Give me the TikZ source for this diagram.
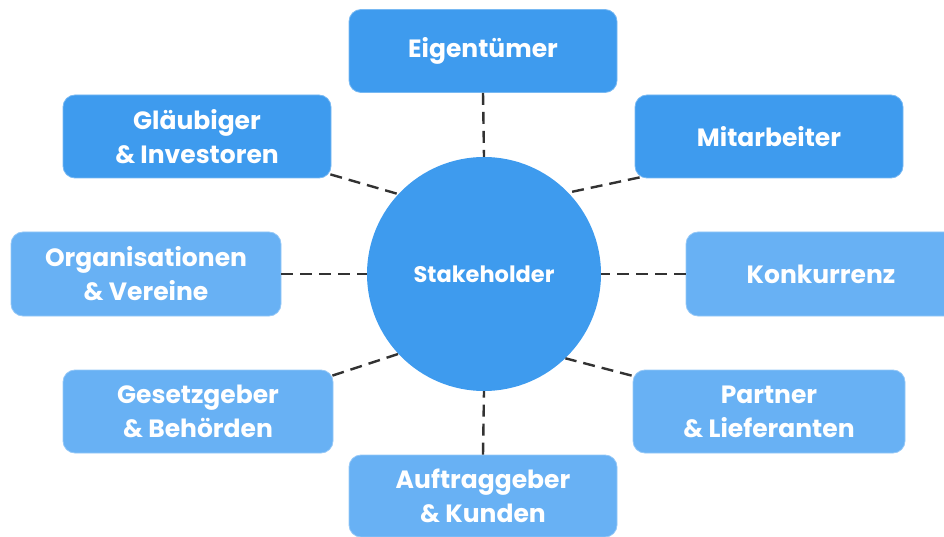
\documentclass[tikz,border=0pt]{standalone}
\usepackage{fontspec}
\setmainfont{Poppins}
\usetikzlibrary{calc}
\definecolor{darkblue}{RGB}{62,155,238}
\definecolor{lightblue}{RGB}{104,177,244}
\definecolor{linegray}{RGB}{50,50,50}
\begin{document}
\begin{tikzpicture}[x=1pt,y=1pt,
  box/.style={rectangle, rounded corners=12pt, minimum width=268pt, minimum height=83pt,
    text=white, font=\fontsize{25}{34}\selectfont\bfseries, align=center, inner sep=0pt},
  darkbox/.style={box, fill=darkblue, draw=darkblue!70!white, line width=0.8pt},
  lightbox/.style={box, fill=lightblue, draw=lightblue!70!white, line width=0.8pt},
  hub/.style={circle, fill=darkblue, minimum size=234pt, inner sep=0pt, text=white,
    font=\fontsize{22.5}{26}\selectfont\bfseries},
  conn/.style={draw=linegray, line width=2.4pt, dash pattern=on 12pt off 7pt}]
\useasboundingbox (0,0) rectangle (944,536);
\node[hub] (c) at (484,262) {Stakeholder};
\node[darkbox] (eig) at (483,485) {Eigentümer};
\node[darkbox] (glae) at (197,399.5) {Gläubiger\\\& Investoren};
\node[darkbox] (mit) at (769,399.5) {Mitarbeiter};
\node[lightbox, minimum width=270pt, minimum height=84pt] (org) at (146,262) {Organisationen\\\& Vereine};
\node[lightbox, minimum width=270pt, minimum height=84pt] (kon) at (821,262) {Konkurrenz};
\node[lightbox, minimum width=270pt] (ges) at (198,124.5) {Gesetzgeber\\\& Behörden};
\node[lightbox, minimum width=272pt] (par) at (769,124.5) {Partner\\\& Lieferanten};
\node[lightbox, minimum height=82pt] (auf) at (483,40) {Auftraggeber\\\& Kunden};
\coordinate (glaeE) at ($(glae.south east)+(-1,4)$);
\coordinate (mitW) at ($(mit.south west)+(5,1)$);
\coordinate (gesE) at ($(ges.north east)+(-1,-6)$);
\coordinate (parW) at ($(par.north west)+(-1,-6)$);
\draw[conn] (eig.south) -- (c.north);
\draw[conn] (auf.north) -- (c.south);
\draw[conn] (org.east) -- (c.west);
\draw[conn] (kon.west) -- (c.east);
\draw[conn] (glaeE) -- (c.137);
\draw[conn] (mitW) -- (c.44);
\draw[conn] (gesE) -- (c.223);
\draw[conn] (parW) -- (c.314);
\end{tikzpicture}
\end{document}
